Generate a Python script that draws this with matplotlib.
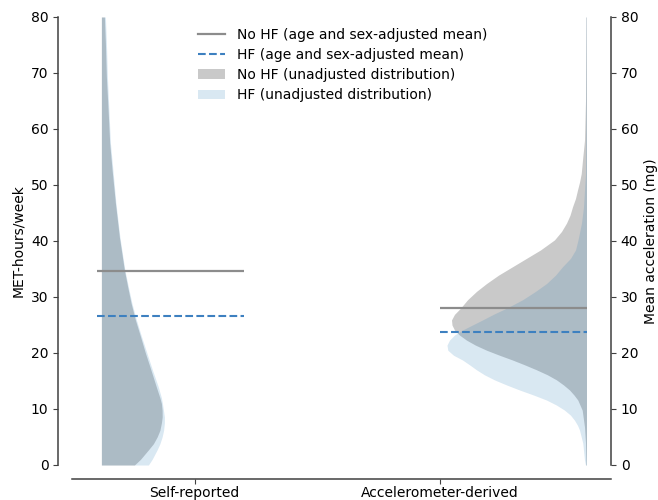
import matplotlib
matplotlib.use("Agg")
import matplotlib.pyplot as plt
from matplotlib.lines import Line2D
from matplotlib.patches import Patch
import numpy as np

# ---------------- data ----------------
categories = ["Self-reported", "Accelerometer-derived"]

# Self-reported (MET-hours/week): unadjusted density profiles (relative half-widths)
self_y = [0, 1, 2.7, 3.8, 5, 6.2, 7.5, 8.6, 9.8, 11, 12, 13.9, 17, 20, 23, 25.9,
          28.9, 31.8, 34.8, 40.7, 46.8, 52.7, 57.5, 63.4, 69.3, 75.4, 80]
self_nohf = [33, 39, 47, 52, 55.7, 58.5, 60, 60.8, 60.7, 60, 58.5, 55, 49.5, 44, 39, 34,
             29.7, 26.3, 23, 18, 14, 10.7, 8.3, 6.7, 5, 4, 3]
self_hf = [47, 50.7, 55.7, 58.5, 60.7, 62.2, 63, 63, 62, 61, 60, 57, 51, 45.5, 40, 35,
           30.5, 27, 23.5, 18.5, 14.5, 11.5, 9, 7.5, 6, 5, 4]

# Accelerometer-derived (mg): unadjusted density profiles (relative half-widths)
acc_y_nohf = [0, 4, 6.8, 9.8, 11.6, 12.5, 13.4, 14.3, 15.2, 16.1, 17, 17.9, 18.75,
              19.6, 20.5, 21.4, 22.3, 23.2, 24.1, 25, 25.9, 26.9, 28, 29.5, 31,
              32.4, 33.9, 35.4, 36.9, 38.4, 40.2, 41.7, 43.2, 44.6, 46.1, 47.6,
              49.1, 50.5, 52, 55, 58, 65, 80]
acc_nohf = [0.5, 1, 2, 4.3, 8.7, 12.5, 17, 23, 30, 39, 50, 62, 74,
            87, 100, 111, 120, 127, 132, 134.5, 135, 132, 126, 119, 110,
            100, 88, 74, 60, 46, 32, 25, 20, 16.5, 14, 11,
            9, 7, 5.3, 3.7, 2, 1, 0.5]
acc_y_hf = [0, 0.9, 3.9, 6.25, 7.1, 8, 8.9, 9.8, 10.7, 11.6, 12.5, 13.4, 14.3,
            15.2, 16.1, 17, 17.9, 18.75, 19.6, 20.5, 21.4, 22.3, 23.2, 24.1,
            25.9, 27, 28, 29.5, 31, 32.4, 33.9, 35.4, 36.9, 38.4, 40.2, 43.2,
            46.1, 52, 60, 80]
acc_hf = [1, 2, 3.7, 7, 9, 12, 16, 22, 30, 40, 53, 67, 80,
          92, 102, 110, 117, 124, 133, 138.7, 139.5, 137, 132, 124,
          104, 92, 80, 64, 51, 40, 31, 24, 16, 11, 8.5, 5,
          3, 1, 0.7, 0.5]

# Age and sex-adjusted means
mean_nohf = [34.7, 28.1]
mean_hf = [26.55, 23.7]

# ---------------- figure ----------------
fig = plt.figure(figsize=(6.58, 5.0), dpi=100)
ax = fig.add_axes([72 / 658, 35 / 500, 539 / 658, 448 / 500])
ax.set_xlim(-0.5, 1.7)
ax.set_ylim(0, 80)
ax2 = ax.twinx()
ax2.set_ylim(0, 80)

GRAY = "gray"
GRAY_A = 0.42
BLUE = "tab:blue"
BLUE_A = 0.17
scale = 1 / 245.0

# Self-reported half violin (extending right)
b0 = -0.38
ax.fill_betweenx(self_y, b0, b0 + np.array(self_nohf) * scale, color=GRAY, alpha=GRAY_A, lw=0)
ax.fill_betweenx(self_y, b0, b0 + np.array(self_hf) * scale, color=BLUE, alpha=BLUE_A, lw=0)

# Accelerometer half violin (extending left)
b1 = 1.6
ax2.fill_betweenx(acc_y_nohf, b1 - np.array(acc_nohf) * scale, b1, color=GRAY, alpha=GRAY_A, lw=0)
ax2.fill_betweenx(acc_y_hf, b1 - np.array(acc_hf) * scale, b1, color=BLUE, alpha=BLUE_A, lw=0)

# mean lines
LCOL = "#8c8c8c"
DCOL = "#3d80c0"
ax.hlines(mean_nohf[0], -0.4, 0.2, color=LCOL, lw=1.6)
ax.hlines(mean_hf[0], -0.4, 0.2, color=DCOL, lw=1.5, linestyles="--")
ax2.hlines(mean_nohf[1], 1.0, 1.6, color=LCOL, lw=1.6)
ax2.hlines(mean_hf[1], 1.0, 1.6, color=DCOL, lw=1.5, linestyles="--")

# axes styling
SP = "0.25"
ax.set_xticks([0, 1])
ax.set_xticklabels(categories, fontsize=10)
ax.set_yticks(range(0, 81, 10))
ax.tick_params(axis="both", labelsize=10, colors="black")
ax.tick_params(axis="both", color=SP)
ax.tick_params(axis="x", pad=1.5)
ax.spines["top"].set_visible(False)
ax.spines["right"].set_visible(False)
ax.spines["left"].set_position(("outward", 10))
ax.spines["bottom"].set_position(("outward", 10))
for s in ("left", "bottom"):
    ax.spines[s].set_color(SP)
    ax.spines[s].set_linewidth(1.1)
ax.set_ylabel("MET-hours/week", fontsize=10)

ax2.set_yticks(range(0, 81, 10))
ax2.tick_params(axis="y", labelsize=10, color=SP)
for s in ("top", "left", "bottom"):
    ax2.spines[s].set_visible(False)
ax2.spines["right"].set_color(SP)
ax2.spines["right"].set_linewidth(1.1)
ax2.set_ylabel("Mean acceleration (mg)", fontsize=10)

handles = [
    Line2D([], [], color=LCOL, lw=1.6),
    Line2D([], [], color=DCOL, lw=1.5, ls="--"),
    Patch(facecolor=GRAY, alpha=GRAY_A, lw=0),
    Patch(facecolor=BLUE, alpha=BLUE_A, lw=0),
]
labels = [
    "No HF (age and sex-adjusted mean)",
    "HF (age and sex-adjusted mean)",
    "No HF (unadjusted distribution)",
    "HF (unadjusted distribution)",
]
ax2.legend(handles, labels, loc="upper left", bbox_to_anchor=(0.21, 1.004),
           frameon=False, fontsize=10, labelspacing=0.45)

fig.savefig("out.png", dpi=100)
